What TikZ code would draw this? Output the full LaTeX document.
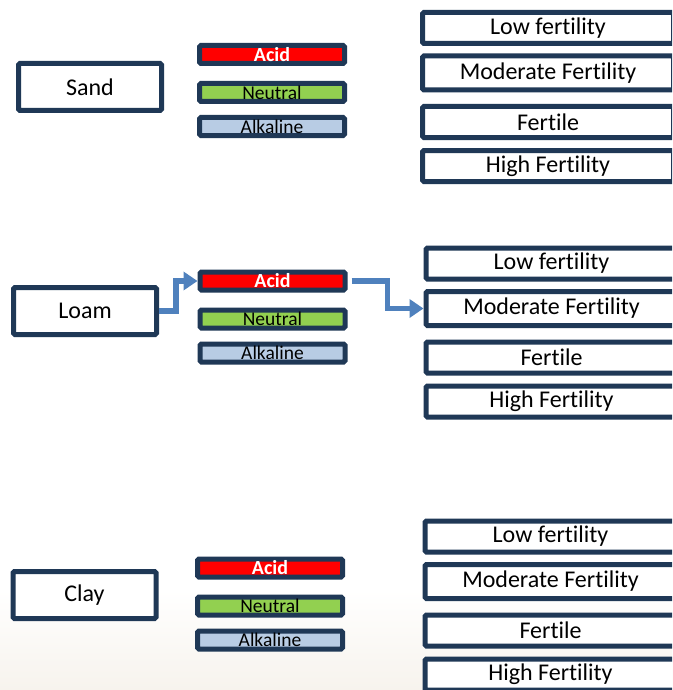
\documentclass[tikz,border=0pt]{standalone}
\usepackage{fontspec}
\setmainfont[Ligatures=NoCommon]{Carlito}
\usetikzlibrary{arrows.meta}
\definecolor{navy}{RGB}{31,56,86}
\definecolor{acidred}{RGB}{255,0,0}
\definecolor{neutralgreen}{RGB}{146,208,80}
\definecolor{alkblue}{RGB}{184,204,228}
\definecolor{flowblue}{RGB}{79,129,189}
\definecolor{sandbg}{RGB}{247,243,237}
\tikzset{
  soilbox/.style={draw=navy,line width=5pt,rounded corners=1.5pt,fill=white,minimum width=143pt,minimum height=47pt,font=\fontsize{24}{26}\selectfont},
  phbar/.style={draw=navy,line width=5pt,rounded corners=1.5pt,minimum width=145pt,minimum height=18pt,inner sep=0pt,font=\fontsize{19.5}{20}\selectfont},
  fertbox/.style={draw=navy,line width=5pt,rounded corners=1.5pt,fill=white,minimum width=251pt,minimum height=31pt,inner sep=0pt,font=\fontsize{24}{26}\selectfont},
  flow/.style={draw=flowblue,line width=5.5pt,-{Triangle[length=14pt,width=18pt]}}
}
\begin{document}
\begin{tikzpicture}[x=1pt,y=-1pt]
      \clip (0,0) rectangle (672,690);
      \fill[white] (0,0) rectangle (672,690);
      \shade[top color=white,bottom color=sandbg] (0,590) rectangle (672,690);
      \foreach \s/\n/\sx/\sy/\bx/\by/\rx/\ry in {sand/Sand/90/87/272/54.5/548/28, loam/Loam/85/311/272.5/281/551.5/263.5, clay/Clay/84.5/595/270/568/550.5/536.5} {
        \node[soilbox] (\s-soil) at (\sx,\sy) {\n};
        \node[phbar,fill=acidred,text=white,font=\fontsize{20}{20}\selectfont\bfseries] (\s-acid) at (\bx,\by) {Acid};
        \node[phbar,fill=neutralgreen] (\s-neutral) at (\bx,\by+38) {Neutral};
        \node[phbar,fill=alkblue] (\s-alk) at (\bx,\by+72) {Alkaline};
        \node[fertbox] (\s-low) at (\rx,\ry) {Low fertility};
        \node[fertbox,minimum height=34pt] (\s-mod) at (\rx,\ry+45) {Moderate Fertility};
        \node[fertbox] (\s-fert) at (\rx,\ry+94) {Fertile};
        \node[fertbox] (\s-high) at (\rx,\ry+138) {High Fertility};
      }
      \draw[flow] (loam-soil.east) -- ++(17,0) |- (loam-acid.west);
      \draw[flow,shorten <=4pt] (loam-acid.east) -- ++(40,0) |- (loam-mod.west);
    \end{tikzpicture}
\end{document}
